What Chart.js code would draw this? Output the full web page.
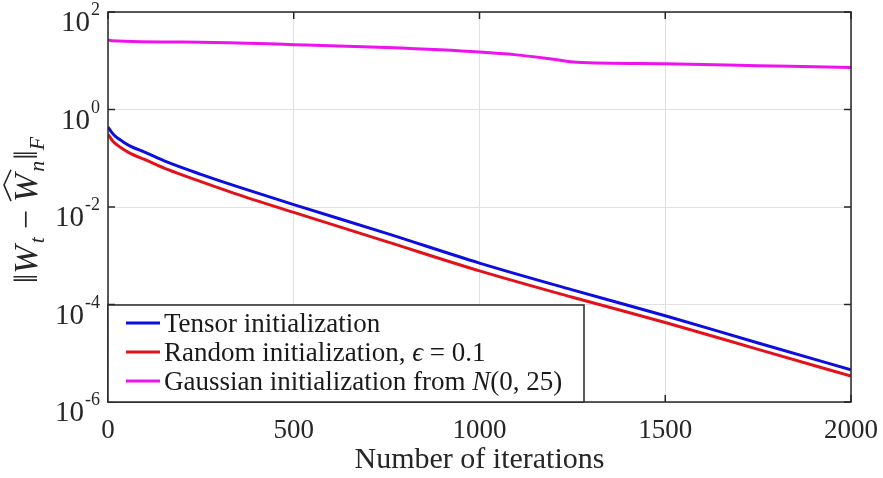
<!DOCTYPE html>
<html>
<head>
<meta charset="utf-8">
<script src="https://cdn.jsdelivr.net/npm/chart.js@4.4.0/dist/chart.umd.min.js"></script>
<style>
  html, body { margin: 0; padding: 0; background: #fff; }
</style>
</head>
<body>
<canvas id="errChart" width="883" height="478"></canvas>
<script>
// iterations and error values
const tensorIters = [0, 10, 20, 40, 60, 100, 160, 250, 340, 500, 750, 1000, 1250, 1500, 1750, 2000];
const tensorErr = [0.437, 0.339, 0.282, 0.219, 0.178, 0.132, 0.0832, 0.0468, 0.0275, 0.0112, 0.00288,
  7.08e-4, 2.0e-4, 5.89e-5, 1.62e-5, 4.57e-6];

const randomIters = [0, 10, 20, 40, 60, 100, 160, 250, 340, 500, 750, 1000, 1250, 1500, 1750, 2000];
const randomErr = [0.309, 0.240, 0.200, 0.155, 0.126, 0.0933, 0.0589, 0.0331, 0.0191, 0.00776, 0.00195,
  4.90e-4, 1.41e-4, 4.27e-5, 1.20e-5, 3.39e-6];

const gaussIters = [0, 10, 250, 500, 750, 1000, 1100, 1200, 1262, 1500, 1750, 2000];
const gaussErr = [26.9, 25.7, 24.0, 21.4, 18.6, 15.1, 13.2, 10.7, 9.33, 8.71, 7.94, 7.24];

const xTicks = [0, 500, 1000, 1500, 2000];
const yTicks = [1e-6, 1e-4, 1e-2, 1, 1e2];
const yExps = ["-6", "-4", "-2", "0", "2"];

const SERIF = '"Liberation Serif", "Times New Roman", serif';

function pts(xs, ys) {
  return xs.map((v, i) => ({ x: v, y: ys[i] }));
}

// axis box, inward ticks, y labels with exponents, y title and legend box
const matlabFrame = {
  id: "matlabFrame",
  afterDraw(chart) {
    const { ctx, chartArea: a, scales } = chart;
    const x = scales.x, y = scales.y;
    ctx.save();
    ctx.strokeStyle = "#262626";
    ctx.lineWidth = 1.5;
    const line = (x1, y1, x2, y2) => { ctx.beginPath(); ctx.moveTo(x1, y1); ctx.lineTo(x2, y2); ctx.stroke(); };
    xTicks.forEach(v => {
      const px = x.getPixelForValue(v);
      line(px, a.bottom, px, a.bottom - 7);
      line(px, a.top, px, a.top + 7);
    });
    yTicks.forEach(v => {
      const py = y.getPixelForValue(v);
      line(a.left, py, a.left + 7, py);
      line(a.right, py, a.right - 7, py);
    });
    ctx.strokeRect(a.left, a.top, a.right - a.left, a.bottom - a.top);

    // y tick labels: 10^k
    ctx.fillStyle = "#262626";
    ctx.textBaseline = "alphabetic";
    yTicks.forEach((v, i) => {
      const py = y.getPixelForValue(v);
      ctx.font = "18px " + SERIF;
      const ew = ctx.measureText(yExps[i]).width;
      ctx.textAlign = "right";
      ctx.fillText(yExps[i], a.left - 8, py + 3);
      ctx.font = "29px " + SERIF;
      ctx.fillText("10", a.left - 8 - ew - 1, py + 19);
    });

    // y title  ||W_t - What_n||_F
    ctx.save();
    ctx.translate(37, (a.top + a.bottom) / 2 + 3);
    ctx.rotate(-Math.PI / 2);
    ctx.textAlign = "left";
    const big = "34px " + SERIF, bigI = "italic 34px " + SERIF, sub = "italic 22px " + SERIF;
    const parts = [
      { t: "\u2016", f: big, dy: 0 },
      { t: "W", f: bigI, dy: 0, pad: 2 },
      { t: "t", f: sub, dy: 7, pad: 8 },
      { t: "\u2212", f: big, dy: 0, pad: 8 },
      { t: "W", f: bigI, dy: 0, hat: true, pad: 2 },
      { t: "n", f: sub, dy: 7, pad: 1 },
      { t: "\u2016", f: big, dy: 0 },
      { t: "F", f: sub, dy: 7 }
    ];
    let total = 0;
    parts.forEach(p => { ctx.font = p.f; p.w = ctx.measureText(p.t).width; total += p.w + (p.pad || 0); });
    let cx = -total / 2;
    parts.forEach(p => {
      ctx.font = p.f;
      ctx.fillText(p.t, cx, p.dy);
      if (p.hat) {
        ctx.lineWidth = 1.6;
        ctx.beginPath();
        ctx.moveTo(cx + 1, -26);
        ctx.lineTo(cx + p.w / 2 + 3, -33);
        ctx.lineTo(cx + p.w + 4, -26);
        ctx.stroke();
      }
      cx += p.w + (p.pad || 0);
    });
    ctx.restore();

    // legend
    const lx = a.left, ly = 305, lw = 476, lh = a.bottom - 305;
    ctx.fillStyle = "#fff";
    ctx.fillRect(lx, ly, lw, lh);
    ctx.strokeStyle = "#262626";
    ctx.lineWidth = 1.5;
    ctx.strokeRect(lx, ly, lw, lh);
    chart.data.datasets.forEach((ds, i) => {
      const ry = ly + 18 + i * 29;
      ctx.strokeStyle = ds.borderColor;
      ctx.lineWidth = 3;
      line(lx + 18, ry, lx + 52, ry);
      ctx.fillStyle = "#1a1a1a";
      ctx.textAlign = "left";
      let tx = lx + 56;
      ds.legendParts.forEach(p => {
        ctx.font = (p.i ? "italic " : "") + "27px " + SERIF;
        ctx.fillText(p.t, tx, ry + 9);
        tx += ctx.measureText(p.t).width;
      });
    });
    ctx.restore();
  }
};

new Chart(document.getElementById("errChart"), {
  type: "line",
  data: {
    datasets: [
      {
        label: "Tensor initialization",
        legendParts: [{ t: "Tensor initialization" }],
        data: pts(tensorIters, tensorErr),
        borderColor: "#0d0de0",
        borderWidth: 3,
        pointRadius: 0,
        cubicInterpolationMode: "monotone",
        order: 2,
      },
      {
        label: "Random initialization, \u03f5 = 0.1",
        legendParts: [{ t: "Random initialization, " }, { t: "\u03f5", i: true }, { t: " = 0.1" }],
        data: pts(randomIters, randomErr),
        borderColor: "#e3121a",
        borderWidth: 3,
        pointRadius: 0,
        cubicInterpolationMode: "monotone",
        order: 1,
      },
      {
        label: "Gaussian initialization from N(0, 25)",
        legendParts: [{ t: "Gaussian initialization from " }, { t: "N", i: true }, { t: "(0, 25)" }],
        data: pts(gaussIters, gaussErr),
        borderColor: "#ee12ee",
        borderWidth: 3,
        pointRadius: 0,
        cubicInterpolationMode: "monotone",
        order: 3,
      },
    ],
  },
  options: {
    responsive: false,
    animation: false,
    layout: { padding: { left: 108, right: 32, top: 12, bottom: 0 } },
    plugins: {
      legend: { display: false },
      tooltip: { enabled: false },
    },
    scales: {
      x: {
        type: "linear",
        min: 0,
        max: 2000,
        afterBuildTicks: s => { s.ticks = xTicks.map(v => ({ value: v })); },
        afterFit: s => { s.height = 76; s.paddingLeft = 0; s.paddingRight = 0; },
        grid: { color: "#e1e1e1", lineWidth: 1, drawTicks: false },
        border: { display: false },
        ticks: {
          color: "#262626",
          font: { family: SERIF, size: 27 },
          padding: 13,
          maxRotation: 0,
          callback: v => String(v),
        },
        title: {
          display: true,
          text: "Number of iterations",
          color: "#262626",
          font: { family: SERIF, size: 30 },
          padding: { top: 0, bottom: 0 },
        },
      },
      y: {
        type: "logarithmic",
        min: 1e-6,
        max: 1e2,
        afterBuildTicks: s => { s.ticks = yTicks.map(v => ({ value: v })); },
        grid: { color: "#e1e1e1", lineWidth: 1, drawTicks: false },
        border: { display: false },
        ticks: { display: false },
      },
    },
  },
  plugins: [matlabFrame],
});
</script>
</body>
</html>
